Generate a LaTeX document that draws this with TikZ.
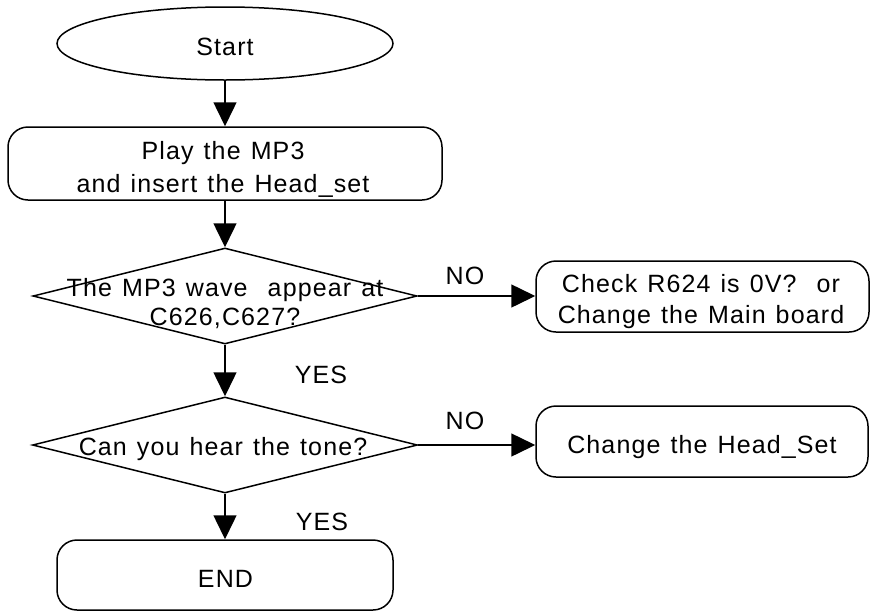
\documentclass[tikz,border=0pt]{standalone}
\usepackage{fontspec}
\setmainfont{Liberation Sans}[LetterSpace=4.5, WordSpace=1.25]
\usetikzlibrary{shapes.geometric,arrows.meta}
\begin{document}
\begin{tikzpicture}[x=1pt,y=-1pt,
  line width=1.5pt,
  flow/.style={-{Triangle[length=24pt,width=23pt]}},
  txt/.style={font=\fontsize{25}{33}\selectfont, align=center, inner sep=0pt, anchor=base},
  terminal/.style={draw, rounded corners=20pt, inner sep=0pt},
  decision/.style={draw, diamond, inner sep=0pt}
]
\useasboundingbox (0,0) rectangle (873,611);

% shapes of the main column
\node[draw, ellipse, inner sep=0pt, minimum width=336pt, minimum height=73pt] (start) at (225,43.5) {};
\node[terminal, minimum width=434pt, minimum height=73pt] (play) at (225,163.5) {};
\node[decision, minimum width=384pt, minimum height=96pt] (q1) at (225,296) {};
\node[decision, minimum width=385pt, minimum height=96pt] (q2) at (225,445) {};
\node[terminal, minimum width=336pt, minimum height=70pt] (end) at (225,575) {};

% shapes on the right
\node[terminal, minimum width=333pt, minimum height=71pt] (check) at (702.5,296.5) {};
\node[terminal, minimum width=332pt, minimum height=71pt] (headset) at (702,441.5) {};

% texts, placed on their last baseline
\node[txt] (start-t) at (225,55) {Start};
\node[txt] (play-t) at (223,192) {Play the MP3\\and insert the Head\_set};
\node[txt, font=\fontsize{25}{29}\selectfont] (q1-t) at (225,325) {The MP3 wave \ appear at\\C626,C627?};
\node[txt] (q2-t) at (223,455) {Can you hear the tone?};
\node[txt] (end-t) at (225.5,587) {END};
\node[txt, font=\fontsize{25}{31}\selectfont] (check-t) at (701,323) {Check R624 is 0V? \ or\\Change the Main board};
\node[txt] (headset-t) at (702,453) {Change the Head\_Set};

% connectors
\draw[flow] (start) -- (play);
\draw[flow] (play) -- (q1);
\draw[flow] (q1) -- (q2);
\draw[flow] (q2) -- (end);
\draw[flow] (q1.east) -- (q1.east -| check.west);
\draw[flow] (q2.east) -- (q2.east -| headset.west);

% branch labels
\node[txt] (no1) at (465,284) {NO};
\node[txt] (no2) at (465,429) {NO};
\node[txt] (yes1) at (321,383) {YES};
\node[txt] (yes2) at (322,530) {YES};
\end{tikzpicture}
\end{document}
